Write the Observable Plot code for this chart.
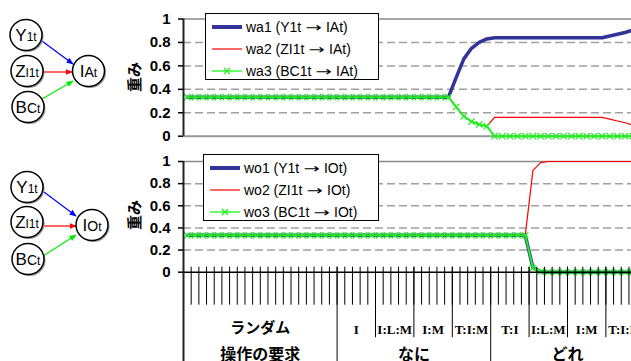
<!DOCTYPE html>
<html><head><meta charset="utf-8">
<script src="https://cdn.jsdelivr.net/npm/d3@7"></script>
<script src="https://cdn.jsdelivr.net/npm/@observablehq/plot@0.6"></script>
<style>
html,body{margin:0;padding:0;width:631px;height:361px;overflow:hidden;background:#fff;}
#wrap{position:relative;width:631px;height:361px;overflow:hidden;font-family:"Liberation Sans",Arial,sans-serif;}
.panel{position:absolute;left:0;}
.legend{position:absolute;background:#fff;border:1px solid #000;box-sizing:border-box;}
.legend .row{position:absolute;left:0;height:20px;white-space:nowrap;font-size:14px;line-height:20px;}
.legend .row svg{position:absolute;left:4px;top:0;}
.legend .row span.t{position:absolute;left:40px;top:0;}
.legend .arr{display:inline-block;font-family:"DejaVu Sans",sans-serif;font-size:13px;transform:scaleX(1.5);margin:0 3px;}
.ylab{position:absolute;font-weight:bold;font-size:15px;font-family:"Noto Sans CJK JP",sans-serif;transform:rotate(-90deg);transform-origin:center;width:40px;text-align:center;line-height:18px;}
#diagram{position:absolute;left:0;top:0;}
</style>
</head><body>
<div id="wrap">
<svg id="diagram" width="130" height="361" font-family="Liberation Sans, Arial, sans-serif">
  <defs>
    <marker id="ab" viewBox="0 0 10 10" refX="9" refY="5" markerWidth="6" markerHeight="6" orient="auto"><path d="M0,1L10,5L0,9z" fill="#0000ff"/></marker>
    <marker id="ar" viewBox="0 0 10 10" refX="9" refY="5" markerWidth="6" markerHeight="6" orient="auto"><path d="M0,1L10,5L0,9z" fill="#ff0000"/></marker>
    <marker id="ag" viewBox="0 0 10 10" refX="9" refY="5" markerWidth="6" markerHeight="6" orient="auto"><path d="M0,1L10,5L0,9z" fill="#00ee00"/></marker>
  </defs>
  <g id="dg"></g>
</svg>
<div id="top" class="panel" style="top:0"></div>
<div id="bot" class="panel" style="top:150px"></div>
<div class="ylab" style="left:114px;top:68px">重み</div>
<div class="ylab" style="left:114px;top:206px">重み</div>
<div id="legTop" class="legend" style="left:205px;top:13px;width:174px;height:67px"></div>
<div id="legBot" class="legend" style="left:203px;top:154px;width:176px;height:67px"></div>
</div>
<script>
// ---------- data ----------
const namesTop = ["wa1 (Y1t → IAt)", "wa2 (ZI1t → IAt)", "wa3 (BC1t → IAt)"];
const namesBot = ["wo1 (Y1t → IOt)", "wo2 (ZI1t → IOt)", "wo3 (BC1t → IOt)"];
const yTicks = [0, 0.2, 0.4, 0.6, 0.8, 1];

const wa1 = [
  0.333,0.333,0.333,0.333,0.333,0.333,0.333,0.333,0.333,0.333,
  0.333,0.333,0.333,0.333,0.333,0.333,0.333,0.333,0.333,0.333,
  0.333,0.333,0.333,0.333,0.333,0.333,0.333,0.333,0.333,0.333,
  0.333,0.333,0.333,0.333,0.333,0.50,0.66,0.75,0.80,0.83,
  0.84,0.84,0.84,0.84,0.84,0.84,0.84,0.84,0.84,0.84,
  0.84,0.84,0.84,0.84,0.84,0.855,0.87,0.885,0.905,0.92];
const wa2 = [
  0.333,0.333,0.333,0.333,0.333,0.333,0.333,0.333,0.333,0.333,
  0.333,0.333,0.333,0.333,0.333,0.333,0.333,0.333,0.333,0.333,
  0.333,0.333,0.333,0.333,0.333,0.333,0.333,0.333,0.333,0.333,
  0.333,0.333,0.333,0.333,0.333,0.25,0.17,0.125,0.10,0.085,
  0.16,0.16,0.16,0.16,0.16,0.16,0.16,0.16,0.16,0.16,
  0.16,0.16,0.16,0.16,0.16,0.145,0.13,0.115,0.095,0.08];
const wa3 = [
  0.333,0.333,0.333,0.333,0.333,0.333,0.333,0.333,0.333,0.333,
  0.333,0.333,0.333,0.333,0.333,0.333,0.333,0.333,0.333,0.333,
  0.333,0.333,0.333,0.333,0.333,0.333,0.333,0.333,0.333,0.333,
  0.333,0.333,0.333,0.333,0.333,0.25,0.17,0.125,0.10,0.085,
  0,0,0,0,0,0,0,0,0,0,
  0,0,0,0,0,0,0,0,0,0];
const wo1 = [
  0.333,0.333,0.333,0.333,0.333,0.333,0.333,0.333,0.333,0.333,
  0.333,0.333,0.333,0.333,0.333,0.333,0.333,0.333,0.333,0.333,
  0.333,0.333,0.333,0.333,0.333,0.333,0.333,0.333,0.333,0.333,
  0.333,0.333,0.333,0.333,0.333,0.333,0.333,0.333,0.333,0.333,
  0.333,0.333,0.333,0.333,0.333,0.04,0.005,0,0,0,
  0,0,0,0,0,0,0,0,0,0];
const wo2 = [
  0.333,0.333,0.333,0.333,0.333,0.333,0.333,0.333,0.333,0.333,
  0.333,0.333,0.333,0.333,0.333,0.333,0.333,0.333,0.333,0.333,
  0.333,0.333,0.333,0.333,0.333,0.333,0.333,0.333,0.333,0.333,
  0.333,0.333,0.333,0.333,0.333,0.333,0.333,0.333,0.333,0.333,
  0.333,0.333,0.333,0.333,0.333,0.92,0.99,1,1,1,
  1,1,1,1,1,1,1,1,1,1];
const wo3 = [
  0.333,0.333,0.333,0.333,0.333,0.333,0.333,0.333,0.333,0.333,
  0.333,0.333,0.333,0.333,0.333,0.333,0.333,0.333,0.333,0.333,
  0.333,0.333,0.333,0.333,0.333,0.333,0.333,0.333,0.333,0.333,
  0.333,0.333,0.333,0.333,0.333,0.333,0.333,0.333,0.333,0.333,
  0.333,0.333,0.333,0.333,0.333,0.04,0.005,0,0,0,
  0,0,0,0,0,0,0,0,0,0];

const level2 = ["ランダム","I","I:L:M","I:M","T:I:M","T:I","I:L:M","I:M","T:I:M"];
const level2Size = [20,5,5,5,5,5,5,5,5];
const level3 = ["操作の要求","なに","どれ"];
const level3Size = [20,20,20];

// diagram node labels
const diagTop = {inputs: [["Y","1t"],["Z","I1t"],["B","C","t"]], out: ["I","A","t"]};
const diagBot = {inputs: [["Y","1t"],["Z","I1t"],["B","C","t"]], out: ["I","O","t"]};

// ---------- styles ----------
const C_BLUE = "#333399", C_RED = "#ff0000", C_GREEN = "#22ee22";
const N = wa1.length;
const CW = 7.68, X0 = 183;
const xScale = {domain: [0, N], range: [X0, X0 + N * CW], axis: null};
const idx = d3.range(N);
const rowsTop = idx.map(i => ({x: i + 0.5, a: wa1[i], b: wa2[i], c: wa3[i]}));
const rowsBot = idx.map(i => ({x: i + 0.5, a: wo1[i], b: wo2[i], c: wo3[i]}));
const bounds = d3.range(N + 1);

function groups(names, sizes) {
  let s = 0;
  return names.map((n, k) => { const g = {name: n, start: s, end: s + sizes[k]}; s += sizes[k]; return g; });
}
const g2 = groups(level2, level2Size);
const g3 = groups(level3, level3Size);
const sep2 = g2.map(g => g.start).filter(v => !g3.some(g => g.start === v));
const sep3 = g3.map(g => g.start).concat([N]);

const fmt = d => String(+d.toFixed(1));

function seriesMarks(rows) {
  return [
    Plot.line(rows, {x: "x", y: "a", stroke: C_BLUE, strokeWidth: 3.5}),
    Plot.line(rows, {x: "x", y: "b", stroke: C_RED, strokeWidth: 1.2}),
    Plot.line(rows, {x: "x", y: "c", stroke: C_GREEN, strokeWidth: 2}),
    Plot.dot(rows, {x: "x", y: "c", symbol: "times", r: 3, stroke: C_GREEN, strokeWidth: 1.2})
  ];
}
function gridMarks() {
  return [
    Plot.ruleY(yTicks.filter(v => v > 0 && v < 1), {stroke: "#a0a0a0", strokeWidth: 1.5, strokeDasharray: "8,4"}),
    Plot.ruleY([1], {stroke: "#8a8a8a", strokeWidth: 1.5})
  ];
}
function yAxis() {
  return Plot.axisY({ticks: yTicks, tickFormat: fmt, tickSize: 5, tickPadding: 8,
    fontSize: 15, fontWeight: "bold", stroke: "#000", strokeWidth: 1.5});
}

const topPlot = Plot.plot({
  width: 631, height: 150,
  marginLeft: X0, marginRight: 0, marginTop: 18.5, marginBottom: 14.3,
  x: xScale,
  y: {domain: [0, 1], range: [135.7, 18.5]},
  style: {fontFamily: "Liberation Sans, Arial, sans-serif", background: "transparent", color: "#000"},
  marks: [
    ...gridMarks(),
    Plot.ruleY([0], {stroke: "#999", strokeWidth: 2}),
    ...seriesMarks(rowsTop),
    Plot.ruleX([0], {stroke: "#222", strokeWidth: 2}),
    yAxis()
  ]
});
document.getElementById("top").appendChild(topPlot);

const jp = s => /[^\x00-\x7f]/.test(s);
const botPlot = Plot.plot({
  width: 631, height: 211,
  marginLeft: X0, marginRight: 0, marginTop: 11, marginBottom: 89.3,
  x: xScale,
  y: {domain: [0, 1], range: [121.7, 11]},
  style: {fontFamily: "Liberation Sans, Arial, sans-serif", background: "transparent", color: "#000", overflow: "hidden"},
  marks: [
    ...gridMarks(),
    ...seriesMarks(rowsBot),
    Plot.ruleY([0], {stroke: "#000", strokeWidth: 1.5}),
    Plot.ruleX(bounds.filter(b => b > 0), {x: d => d, y1: 0, y2: 0, insetTop: -5, insetBottom: -33, stroke: "#000", strokeWidth: 1}),
    Plot.ruleX(sep2, {x: d => d, y1: 0, y2: 0, insetTop: -5, insetBottom: -65.5, stroke: "#000", strokeWidth: 1}),
    Plot.ruleX(sep3, {x: d => d, y1: 0, y2: 0, insetTop: -5, insetBottom: -95, stroke: "#000", strokeWidth: 1}),
    Plot.ruleX([0], {x: d => d, y1: 1, y2: 0, insetBottom: -95, stroke: "#222", strokeWidth: 2}),
    Plot.text(g2.filter(g => !jp(g.name)), {x: g => (g.start + g.end) / 2, y: () => 0, text: "name", dy: 58,
      fontSize: 13, fontWeight: "bold", fontFamily: "Liberation Serif, serif", fill: "#000"}),
    Plot.text(g2.filter(g => jp(g.name)), {x: g => (g.start + g.end) / 2, y: () => 0, text: "name", dy: 56,
      fontSize: 15, fontWeight: "bold", fontFamily: "Noto Sans CJK JP, sans-serif", fill: "#000"}),
    Plot.text(g3, {x: g => (g.start + g.end) / 2, y: () => 0, text: "name", dy: 83,
      fontSize: 16, fontWeight: "bold", fontFamily: "Noto Sans CJK JP, sans-serif", fill: "#000"}),
    yAxis()
  ]
});
document.getElementById("bot").appendChild(botPlot);

// ---------- legends ----------
function legend(el, names, rowTops) {
  const samples = [
    `<line x1="2" y1="10" x2="32" y2="10" stroke="${C_BLUE}" stroke-width="4"/>`,
    `<line x1="2" y1="10" x2="32" y2="10" stroke="${C_RED}" stroke-width="1.2"/>`,
    `<line x1="2" y1="10" x2="32" y2="10" stroke="#66ff66" stroke-width="2"/><path d="M14,7L20,13M20,7L14,13" stroke="${C_GREEN}" stroke-width="1.3"/>`
  ];
  el.innerHTML = names.map((n, k) => {
    const html = n.replace("(", " (").replace("→", '<span class="arr">→</span>');
    return `<div class="row" style="top:${rowTops[k]}px"><svg width="34" height="20">${samples[k]}</svg><span class="t">${html}</span></div>`;
  }).join("");
}
legend(document.getElementById("legTop"), namesTop, [3, 25, 47]);
legend(document.getElementById("legBot"), namesBot, [3, 25, 47]);

// ---------- diagrams ----------
function drawDiagram(g, spec, ins, outC, arrows) {
  const ns = "http://www.w3.org/2000/svg";
  function node(c, parts) {
    const sh = document.createElementNS(ns, "ellipse");
    sh.setAttribute("cx", c[0] + 1.5); sh.setAttribute("cy", c[1] + 1.5); sh.setAttribute("rx", 16); sh.setAttribute("ry", 15.5);
    sh.setAttribute("fill", "#9a9a9a"); g.appendChild(sh);
    const e = document.createElementNS(ns, "ellipse");
    e.setAttribute("cx", c[0]); e.setAttribute("cy", c[1]); e.setAttribute("rx", 16); e.setAttribute("ry", 15.5);
    e.setAttribute("fill", "#fff"); e.setAttribute("stroke", "#000"); e.setAttribute("stroke-width", 1.5); g.appendChild(e);
    const t = document.createElementNS(ns, "text");
    t.setAttribute("x", c[0]); t.setAttribute("y", c[1] + 6); t.setAttribute("text-anchor", "middle");
    const sizes = parts.length === 2 ? [17, 12] : [17, 14, 12];
    parts.forEach((p, k) => {
      const ts = document.createElementNS(ns, "tspan");
      ts.setAttribute("font-size", sizes[k]); ts.textContent = p; t.appendChild(ts);
    });
    g.appendChild(t);
  }
  const cols = ["#0000ff", "#ff0000", "#00ee00"], mk = ["ab", "ar", "ag"];
  arrows.forEach((a, k) => {
    const l = document.createElementNS(ns, "line");
    l.setAttribute("x1", a[0]); l.setAttribute("y1", a[1]); l.setAttribute("x2", a[2]); l.setAttribute("y2", a[3]);
    l.setAttribute("stroke", cols[k]); l.setAttribute("stroke-width", 1.2); l.setAttribute("marker-end", `url(#${mk[k]})`);
    g.appendChild(l);
  });
  spec.inputs.forEach((p, k) => node(ins[k], p));
  node(outC, spec.out);
}
const dg = document.getElementById("dg");
drawDiagram(dg, diagTop, [[26, 35], [27, 71], [28, 107]], [88.5, 71],
  [[42, 41, 73, 64], [43, 72, 72, 72], [42, 99, 73, 81]]);
drawDiagram(dg, diagBot, [[27, 187], [27, 222], [28, 259]], [92, 225],
  [[44, 192, 76, 216], [44, 226, 76, 226], [43, 256, 76, 235]]);
</script>
</body></html>
